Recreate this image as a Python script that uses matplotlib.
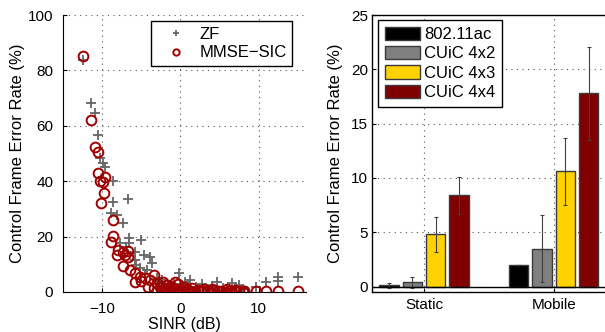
import numpy as np
import matplotlib
matplotlib.use("Agg")
import matplotlib.pyplot as plt

plt.rcParams['font.family'] = ['Liberation Sans', 'DejaVu Sans']
plt.rcParams['font.size'] = 11

# Left panel: scatter of control frame error rate vs SINR
zf_sinr = [-12.4, -11.4, -10.9, -10.5, -10.3, -9.9, -9.65, -8.6, -8.6, -6.65,
           -8.8, -8.15, -7.3, -7.7, -6.5, -6.5, -5.05, -5.8, -4.7, -3.9,
           -5.8, -3.65, -5.6, -5.15, -4.5, -3.0, -2.3, -0.2, 0.65, 1.3,
           2.8, 4.7, 6.65, 7.5, 9.65, 10.9, 12.45, 12.45, 15.0, -1.5,
           -0.8, 0.2, 1.0, 2.0, 3.5, 4.0, 5.5, 6.0, 7.0, 8.0,
           -2.5, -1.0, 3.0, 5.0, -6.9, -4.2]
zf_err = [83.8, 68.1, 64.8, 56.7, 48.3, 46.5, 45.2, 40.2, 32.6, 33.6,
          28.4, 27.8, 24.8, 17.6, 19.4, 17.6, 18.8, 14.5, 13.4, 12.7,
          11.6, 10.4, 9.7, 8.6, 6.5, 5.0, 4.5, 6.7, 3.7, 4.3,
          2.9, 3.5, 3.1, 2.5, 1.9, 3.7, 5.5, 4.0, 5.5, 2.0,
          3.0, 2.2, 1.5, 1.8, 1.2, 2.0, 1.5, 1.0, 1.5, 1.0,
          3.5, 1.0, 0.8, 0.5, 16.3, 7.8]

mmse_sinr = [-12.4, -11.45, -10.9, -10.5, -10.5, -9.65, -10.3, -9.87, -9.8, -10.1,
             -8.6, -8.6, -8.8, -7.9, -7.3, -6.65, -8.15, -7.1, -6.65, -7.3,
             -6.45, -5.8, -5.15, -5.8, -3.9, -3.0, -2.15, -1.7, -4.1, -3.4,
             -2.6, -0.65, -3.4, -4.5, -5.0, -1.5, -1.0, -0.5, 0.0, 0.3,
             0.8, 1.2, 1.7, 2.2, 2.6, 3.0, 3.4, 3.9, 4.3, 4.8,
             5.2, 5.7, 6.2, 6.6, 7.0, 7.5, 8.0, 8.2, -2.4, -1.9,
             -0.2, 1.5, 2.8, 4.0, 6.0, 7.1, 8.15, 9.65, 10.9, 12.45,
             15.0, -3.0, -2.0, -1.2, -0.3, 0.5]
mmse_err = [85.3, 62.1, 52.2, 50.6, 43.1, 41.6, 40.2, 39.8, 35.6, 32.0,
            26.0, 20.2, 18.2, 15.2, 14.5, 14.8, 13.4, 13.4, 12.7, 9.4,
            7.9, 6.8, 5.3, 3.7, 4.3, 3.1, 3.7, 2.5, 1.9, 1.3,
            1.9, 3.7, 6.2, 5.0, 4.0, 0.8, 0.3, 1.2, 0.5, 0.2,
            1.0, 0.4, 0.1, 0.6, 0.2, 1.0, 0.3, 0.1, 0.7, 0.2,
            0.5, 0.1, 0.4, 0.1, 0.8, 0.3, 0.1, 0.5, 0.6, 0.2,
            0.1, 1.3, 0.3, 1.0, 1.0, 0.5, 0.3, 0.3, 0.2, 0.2,
            0.2, 0.5, 1.5, 2.0, 2.8, 1.8]

# Right panel: bar chart
scenarios = ["Static", "Mobile"]
schemes = ["802.11ac", "CUiC 4x2", "CUiC 4x3", "CUiC 4x4"]
rates = {
    "802.11ac": [0.1, 2.0],
    "CUiC 4x2": [0.4, 3.5],
    "CUiC 4x3": [4.8, 10.6],
    "CUiC 4x4": [8.4, 17.8],
}
errs = {
    "802.11ac": [0.2, 0.02],
    "CUiC 4x2": [0.5, 3.05],
    "CUiC 4x3": [1.6, 3.07],
    "CUiC 4x4": [1.7, 4.3],
}
bar_colors = ["#000000", "#808080", "#FFD200", "#800000"]

fig = plt.figure(figsize=(6.05, 3.32), dpi=100)

# ---- left ----
ax1 = fig.add_axes([0.104, 0.1205, 0.401, 0.834])
ax1.plot(zf_sinr, zf_err, '+', color='#666666', markersize=6.5,
         markeredgewidth=1.3, linestyle='none', label='ZF')
ax1.plot(mmse_sinr, mmse_err, 'o', markerfacecolor='none',
         markeredgecolor='#a00000', markersize=7, markeredgewidth=1.4,
         linestyle='none', label='MMSE\u2212SIC')
ax1.set_xlim(-15, 16)
ax1.set_ylim(0, 100)
ax1.set_xticks([-10, 0, 10])
ax1.set_yticks([0, 20, 40, 60, 80, 100])
ax1.grid(True, linestyle=(0, (1, 4)), color='#555555', linewidth=0.8)
ax1.spines['top'].set_visible(False)
ax1.spines['right'].set_visible(False)
ax1.tick_params(direction='in', length=3, width=0.8)
ax1.tick_params(axis='y', pad=7)
ax1.tick_params(axis='x', pad=7)
ax1.set_xlabel("SINR (dB)", fontsize=11.5, labelpad=1)
ax1.set_ylabel("Control Frame Error Rate (%)", fontsize=12, labelpad=2)
leg1 = ax1.legend(loc='upper right', bbox_to_anchor=(0.946, 0.978),
                  fancybox=False, edgecolor='black', framealpha=1,
                  handlelength=2.3, handletextpad=0.25, borderpad=0.35,
                  labelspacing=0.2, fontsize=12, markerscale=0.65,
                  borderaxespad=0)
leg1.get_frame().set_linewidth(1.0)

# ---- right ----
ax2 = fig.add_axes([0.615, 0.1205, 0.386, 0.834])
x = np.arange(1, len(scenarios) + 1)
offsets = [-0.27, -0.09, 0.09, 0.27]
width = 0.15
for name, off, col in zip(schemes, offsets, bar_colors):
    ax2.bar(x + off, rates[name], width, color=col, edgecolor='#3a3a3a',
            linewidth=1.0, label=name, zorder=2)
    ax2.errorbar(x + off, rates[name], yerr=errs[name], fmt='none',
                 ecolor='#404040', elinewidth=0.8, capsize=1.5,
                 capthick=0.8, zorder=3)
ax2.axhline(0, color='black', linewidth=1.0, zorder=4)
ax2.set_xlim(0.6, 2.4)
ax2.set_ylim(-0.5, 25)
ax2.set_xticks(x)
ax2.set_xticklabels(scenarios)
ax2.set_yticks([0, 5, 10, 15, 20, 25])
ax2.grid(True, linestyle=(0, (1, 4)), color='#555555', linewidth=0.8, zorder=0)
ax2.set_axisbelow(True)
ax2.tick_params(direction='in', length=3, width=0.8)
ax2.tick_params(axis='y', pad=3)
ax2.tick_params(axis='x', pad=4)
for s in ax2.spines.values():
    s.set_linewidth(1.0)
ax2.set_ylabel("Control Frame Error Rate (%)", fontsize=12, labelpad=6)
leg2 = ax2.legend(loc='upper left', bbox_to_anchor=(0.026, 0.982),
                  fancybox=False, edgecolor='black', framealpha=1,
                  handlelength=2.1, handleheight=0.84, handletextpad=0.24,
                  borderpad=0.4, labelspacing=0.24, fontsize=12,
                  borderaxespad=0)
leg2.get_frame().set_linewidth(1.0)

fig.savefig("out.png", dpi=100)
